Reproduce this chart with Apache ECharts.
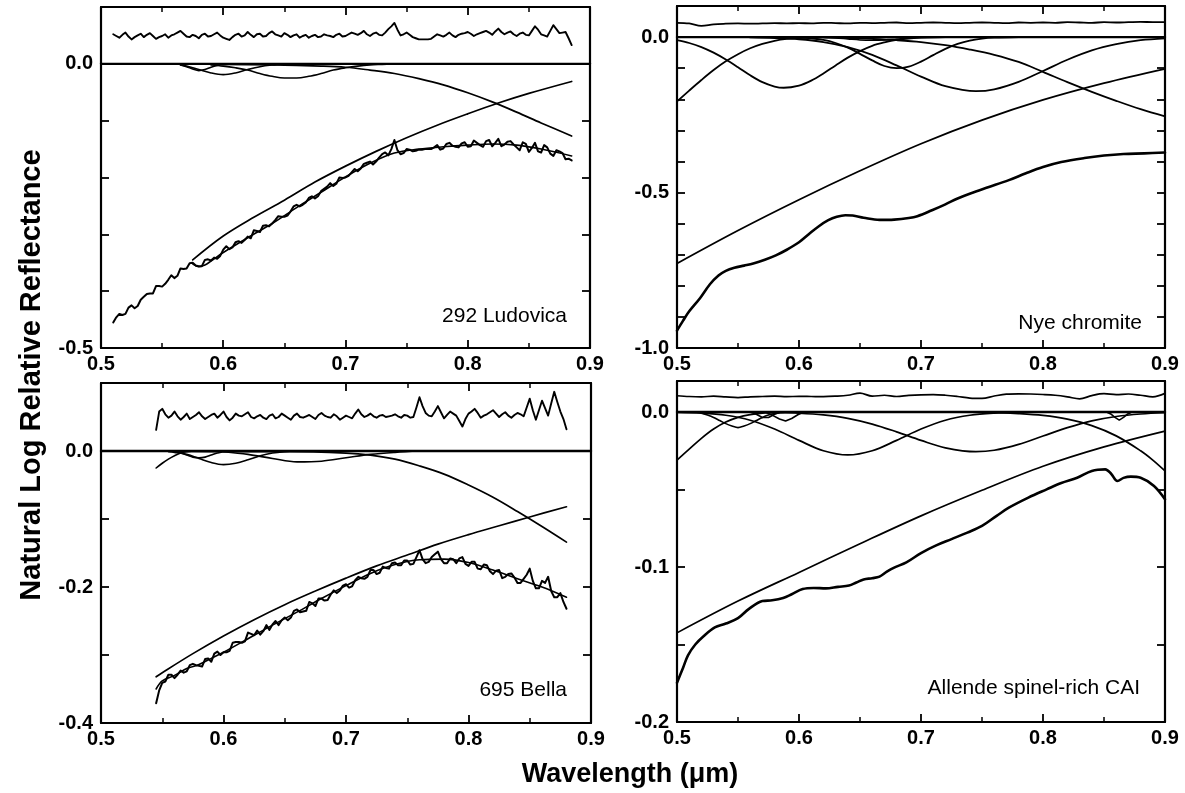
<!DOCTYPE html>
<html><head><meta charset="utf-8">
<script src="https://cdn.jsdelivr.net/npm/echarts/dist/echarts.min.js"></script>
<style>html,body{margin:0;padding:0;background:#fff}#c{width:1185px;height:793px}</style>
</head><body><div id="c"></div>
<script>
// ---------- shared ----------
const xTicks = [0.5, 0.6, 0.7, 0.8, 0.9];
const zeroLine = [[0.5, 0], [0.9, 0]];

// ---------- 292 Ludovica (top-left) ----------
const tlStart = 0.51, tlStep = 0.0025;
const tlResidual = [0.052,0.049,0.046,0.051,0.055,0.048,0.043,0.047,0.050,0.053,0.047,0.051,0.054,0.049,0.044,0.047,0.049,0.052,0.046,0.050,0.052,0.055,0.058,0.053,0.048,0.047,0.051,0.049,0.045,0.051,0.053,0.048,0.049,0.052,0.055,0.050,0.046,0.044,0.042,0.047,0.051,0.053,0.048,0.050,0.056,0.051,0.047,0.052,0.053,0.048,0.049,0.054,0.057,0.052,0.050,0.048,0.054,0.051,0.047,0.050,0.052,0.046,0.049,0.051,0.046,0.049,0.051,0.047,0.048,0.052,0.050,0.049,0.047,0.051,0.053,0.048,0.049,0.052,0.055,0.053,0.051,0.054,0.058,0.052,0.049,0.053,0.055,0.051,0.050,0.055,0.061,0.066,0.072,0.060,0.050,0.052,0.055,0.051,0.047,0.045,0.043,0.043,0.043,0.043,0.044,0.048,0.052,0.050,0.048,0.051,0.055,0.050,0.047,0.051,0.053,0.054,0.056,0.053,0.049,0.052,0.054,0.056,0.058,0.055,0.051,0.057,0.062,0.056,0.052,0.055,0.057,0.052,0.049,0.053,0.055,0.051,0.050,0.058,0.066,0.060,0.052,0.050,0.048,0.058,0.068,0.061,0.054,0.055,0.056,0.045,0.033];
const tlSpectrum = [-0.455,-0.446,-0.440,-0.442,-0.440,-0.429,-0.425,-0.430,-0.426,-0.415,-0.410,-0.405,-0.404,-0.404,-0.391,-0.391,-0.392,-0.387,-0.380,-0.372,-0.377,-0.373,-0.360,-0.361,-0.360,-0.351,-0.350,-0.355,-0.356,-0.356,-0.345,-0.344,-0.346,-0.341,-0.343,-0.338,-0.327,-0.321,-0.326,-0.323,-0.314,-0.312,-0.315,-0.310,-0.304,-0.307,-0.293,-0.294,-0.296,-0.285,-0.284,-0.286,-0.281,-0.275,-0.268,-0.269,-0.269,-0.267,-0.260,-0.251,-0.248,-0.251,-0.248,-0.244,-0.236,-0.233,-0.237,-0.233,-0.224,-0.220,-0.216,-0.210,-0.215,-0.211,-0.200,-0.201,-0.200,-0.197,-0.191,-0.185,-0.189,-0.184,-0.176,-0.174,-0.172,-0.177,-0.172,-0.165,-0.159,-0.156,-0.161,-0.150,-0.134,-0.152,-0.159,-0.157,-0.150,-0.151,-0.154,-0.153,-0.151,-0.151,-0.150,-0.150,-0.150,-0.147,-0.143,-0.151,-0.149,-0.141,-0.139,-0.144,-0.146,-0.147,-0.140,-0.138,-0.146,-0.145,-0.135,-0.139,-0.143,-0.146,-0.136,-0.134,-0.145,-0.139,-0.132,-0.145,-0.142,-0.137,-0.136,-0.142,-0.147,-0.152,-0.138,-0.141,-0.155,-0.148,-0.139,-0.154,-0.156,-0.143,-0.147,-0.158,-0.162,-0.152,-0.154,-0.157,-0.168,-0.167,-0.170];
const tlModel = [[0.575,-0.352],[0.58,-0.357],[0.585,-0.354],[0.59,-0.347],[0.60,-0.332],[0.62,-0.306],[0.64,-0.281],[0.66,-0.253],[0.68,-0.226],[0.70,-0.199],[0.72,-0.175],[0.74,-0.157],[0.76,-0.150],[0.78,-0.146],[0.80,-0.143],[0.82,-0.141],[0.84,-0.143],[0.86,-0.150],[0.885,-0.162]];
const tlContinuum = [[0.575,-0.345],[0.60,-0.303],[0.625,-0.270],[0.65,-0.240],[0.675,-0.208],[0.70,-0.180],[0.725,-0.154],[0.75,-0.130],[0.775,-0.108],[0.80,-0.088],[0.825,-0.069],[0.85,-0.052],[0.885,-0.031]];
const tlBand1 = [[0.565,-0.002],[0.57,-0.005],[0.575,-0.009],[0.58,-0.012],[0.585,-0.010],[0.59,-0.006],[0.595,-0.003],[0.60,-0.001],[0.61,0]];
const tlBand2 = [[0.565,-0.002],[0.57,-0.004],[0.58,-0.010],[0.59,-0.016],[0.60,-0.019],[0.61,-0.016],[0.62,-0.010],[0.63,-0.005],[0.64,-0.002],[0.65,0]];
const tlBand3 = [[0.59,-0.002],[0.60,-0.004],[0.61,-0.007],[0.62,-0.011],[0.63,-0.017],[0.64,-0.022],[0.65,-0.025],[0.66,-0.025],[0.67,-0.022],[0.68,-0.017],[0.69,-0.011],[0.70,-0.007],[0.71,-0.004],[0.72,-0.002],[0.73,-0.001],[0.74,0]];
const tlBand4 = [[0.575,0],[0.60,-0.001],[0.64,-0.002],[0.68,-0.004],[0.70,-0.006],[0.72,-0.011],[0.74,-0.017],[0.76,-0.026],[0.78,-0.037],[0.80,-0.051],[0.82,-0.067],[0.84,-0.085],[0.86,-0.104],[0.885,-0.127]];

// ---------- Nye chromite (top-right) ----------
const trStart = 0.50, trStep = 0.01;
const trResidual = [0.046,0.044,0.036,0.041,0.043,0.044,0.043,0.044,0.045,0.044,0.045,0.044,0.046,0.045,0.044,0.046,0.045,0.046,0.047,0.045,0.046,0.047,0.046,0.045,0.046,0.047,0.046,0.045,0.047,0.046,0.047,0.046,0.048,0.047,0.046,0.048,0.047,0.048,0.049,0.048,0.048];
const trSpectrum = [[0.5,-0.944],[0.505,-0.912],[0.51,-0.882],[0.519,-0.839],[0.527,-0.795],[0.534,-0.767],[0.54,-0.752],[0.547,-0.742],[0.555,-0.735],[0.5625,-0.728],[0.572,-0.716],[0.581,-0.702],[0.59,-0.684],[0.6,-0.660],[0.608,-0.634],[0.616,-0.609],[0.624,-0.589],[0.631,-0.578],[0.638,-0.573],[0.644,-0.574],[0.653,-0.581],[0.666,-0.588],[0.678,-0.587],[0.69,-0.582],[0.697,-0.576],[0.709,-0.557],[0.72,-0.538],[0.73,-0.519],[0.741,-0.502],[0.755,-0.483],[0.772,-0.460],[0.786,-0.438],[0.8,-0.418],[0.815,-0.402],[0.834,-0.389],[0.85,-0.381],[0.866,-0.376],[0.883,-0.374],[0.9,-0.371]];
const trContinuum = [[0.5,-0.728],[0.55,-0.622],[0.6,-0.523],[0.65,-0.430],[0.7,-0.343],[0.75,-0.267],[0.8,-0.202],[0.85,-0.148],[0.9,-0.102]];
const trBandW = [[0.5,-0.207],[0.51,-0.172],[0.52,-0.138],[0.53,-0.106],[0.54,-0.078],[0.55,-0.055],[0.56,-0.036],[0.57,-0.022],[0.58,-0.012],[0.59,-0.006],[0.60,-0.003],[0.62,0]];
const trBandA = [[0.5,-0.010],[0.51,-0.019],[0.52,-0.032],[0.53,-0.050],[0.54,-0.072],[0.55,-0.097],[0.56,-0.123],[0.57,-0.145],[0.58,-0.159],[0.5875,-0.163],[0.60,-0.156],[0.61,-0.140],[0.62,-0.117],[0.63,-0.091],[0.64,-0.066],[0.65,-0.045],[0.66,-0.028],[0.67,-0.017],[0.68,-0.009],[0.69,-0.005],[0.70,-0.002],[0.72,0]];
const trBandE = [[0.62,-0.001],[0.63,-0.003],[0.64,-0.006],[0.65,-0.009],[0.66,-0.010],[0.67,-0.009],[0.68,-0.006],[0.69,-0.003],[0.70,-0.001],[0.71,0]];
const trBandB = [[0.60,-0.001],[0.61,-0.004],[0.62,-0.009],[0.63,-0.019],[0.64,-0.034],[0.65,-0.054],[0.66,-0.075],[0.67,-0.093],[0.68,-0.100],[0.69,-0.095],[0.70,-0.079],[0.71,-0.058],[0.72,-0.038],[0.73,-0.022],[0.74,-0.011],[0.75,-0.005],[0.76,-0.002],[0.78,0]];
const trBandC = [[0.56,-0.001],[0.58,-0.003],[0.60,-0.007],[0.62,-0.016],[0.64,-0.032],[0.66,-0.057],[0.68,-0.091],[0.70,-0.127],[0.72,-0.158],[0.745,-0.174],[0.76,-0.168],[0.78,-0.144],[0.80,-0.109],[0.82,-0.073],[0.84,-0.043],[0.86,-0.023],[0.88,-0.010],[0.90,-0.004]];
const trBandD = [[0.60,0],[0.62,-0.001],[0.64,-0.003],[0.66,-0.006],[0.68,-0.010],[0.70,-0.016],[0.72,-0.026],[0.74,-0.040],[0.76,-0.057],[0.78,-0.080],[0.80,-0.112],[0.82,-0.145],[0.84,-0.176],[0.86,-0.205],[0.88,-0.232],[0.90,-0.255]];

// ---------- 695 Bella (bottom-left) ----------
const blStart = 0.545, blStep = 0.0025;
const blResidual = [0.031,0.058,0.062,0.054,0.049,0.052,0.058,0.051,0.046,0.050,0.055,0.047,0.050,0.053,0.057,0.051,0.047,0.050,0.053,0.055,0.049,0.053,0.058,0.050,0.045,0.049,0.055,0.052,0.051,0.054,0.057,0.050,0.048,0.051,0.053,0.049,0.047,0.052,0.054,0.048,0.050,0.055,0.052,0.049,0.046,0.052,0.055,0.050,0.049,0.051,0.053,0.050,0.047,0.053,0.056,0.052,0.050,0.049,0.054,0.051,0.046,0.049,0.052,0.050,0.048,0.055,0.061,0.054,0.050,0.052,0.055,0.051,0.049,0.052,0.053,0.050,0.051,0.052,0.054,0.051,0.049,0.053,0.052,0.049,0.050,0.064,0.079,0.066,0.056,0.052,0.051,0.058,0.066,0.057,0.048,0.053,0.058,0.055,0.052,0.044,0.036,0.047,0.055,0.058,0.062,0.056,0.049,0.052,0.054,0.057,0.060,0.055,0.050,0.054,0.057,0.052,0.049,0.053,0.056,0.054,0.051,0.064,0.077,0.060,0.046,0.060,0.074,0.063,0.052,0.070,0.087,0.072,0.058,0.047,0.032];
const blSpectrum = [-0.371,-0.352,-0.341,-0.339,-0.329,-0.329,-0.334,-0.329,-0.323,-0.326,-0.324,-0.315,-0.313,-0.315,-0.316,-0.317,-0.306,-0.305,-0.310,-0.298,-0.295,-0.300,-0.296,-0.296,-0.294,-0.282,-0.281,-0.281,-0.282,-0.280,-0.267,-0.269,-0.271,-0.264,-0.270,-0.265,-0.256,-0.263,-0.255,-0.250,-0.256,-0.249,-0.245,-0.249,-0.245,-0.235,-0.233,-0.237,-0.236,-0.235,-0.222,-0.224,-0.228,-0.217,-0.217,-0.220,-0.219,-0.211,-0.205,-0.209,-0.205,-0.198,-0.196,-0.201,-0.199,-0.190,-0.185,-0.187,-0.188,-0.185,-0.175,-0.175,-0.181,-0.179,-0.170,-0.172,-0.173,-0.165,-0.164,-0.168,-0.168,-0.161,-0.161,-0.167,-0.166,-0.156,-0.146,-0.159,-0.165,-0.163,-0.156,-0.152,-0.148,-0.159,-0.165,-0.165,-0.158,-0.159,-0.165,-0.158,-0.156,-0.166,-0.169,-0.163,-0.163,-0.173,-0.174,-0.167,-0.168,-0.177,-0.181,-0.176,-0.175,-0.187,-0.185,-0.181,-0.180,-0.186,-0.194,-0.194,-0.188,-0.182,-0.173,-0.191,-0.202,-0.202,-0.191,-0.194,-0.185,-0.206,-0.215,-0.215,-0.209,-0.222,-0.232];
const blModel = [[0.545,-0.350],[0.55,-0.338],[0.56,-0.330],[0.57,-0.320],[0.58,-0.314],[0.59,-0.305],[0.60,-0.296],[0.62,-0.276],[0.64,-0.256],[0.66,-0.237],[0.68,-0.217],[0.70,-0.198],[0.72,-0.180],[0.74,-0.167],[0.76,-0.160],[0.78,-0.159],[0.80,-0.164],[0.82,-0.175],[0.84,-0.188],[0.86,-0.200],[0.88,-0.215]];
const blContinuum = [[0.545,-0.332],[0.55,-0.326],[0.575,-0.298],[0.60,-0.272],[0.625,-0.248],[0.65,-0.226],[0.675,-0.206],[0.70,-0.187],[0.725,-0.169],[0.75,-0.153],[0.775,-0.137],[0.80,-0.123],[0.825,-0.110],[0.85,-0.097],[0.88,-0.082]];
const blBand1 = [[0.545,-0.025],[0.55,-0.018],[0.555,-0.012],[0.56,-0.007],[0.565,-0.003],[0.57,-0.001],[0.58,0]];
const blBand2 = [[0.56,-0.001],[0.565,-0.003],[0.57,-0.006],[0.575,-0.009],[0.58,-0.010],[0.585,-0.009],[0.59,-0.006],[0.595,-0.003],[0.60,-0.001],[0.61,0]];
const blBand3 = [[0.555,-0.001],[0.56,-0.002],[0.57,-0.005],[0.58,-0.011],[0.59,-0.017],[0.60,-0.020],[0.61,-0.018],[0.62,-0.013],[0.63,-0.007],[0.64,-0.003],[0.65,-0.001],[0.66,0]];
const blBand4 = [[0.60,-0.001],[0.62,-0.005],[0.64,-0.011],[0.66,-0.016],[0.68,-0.015],[0.70,-0.010],[0.72,-0.005],[0.74,-0.002],[0.76,0]];
const blBand5 = [[0.545,0],[0.60,-0.001],[0.65,-0.001],[0.70,-0.003],[0.72,-0.006],[0.74,-0.012],[0.76,-0.022],[0.78,-0.034],[0.80,-0.050],[0.82,-0.068],[0.84,-0.089],[0.86,-0.111],[0.88,-0.134]];

// ---------- Allende spinel-rich CAI (bottom-right) ----------
const brStart = 0.50, brStep = 0.01;
const brResidual = [0.0105,0.0100,0.0098,0.0102,0.0097,0.0093,0.0098,0.0100,0.0102,0.0099,0.0101,0.0100,0.0099,0.0102,0.0108,0.0122,0.0102,0.0108,0.0100,0.0107,0.0111,0.0112,0.0108,0.0100,0.0090,0.0088,0.0103,0.0115,0.0117,0.0116,0.0113,0.0108,0.0098,0.0085,0.0106,0.0118,0.0112,0.0116,0.0108,0.0098,0.0120];
const brSpectrum = [[0.5,-0.1746],[0.505,-0.165],[0.509,-0.157],[0.515,-0.150],[0.522,-0.1445],[0.531,-0.139],[0.54,-0.1365],[0.55,-0.133],[0.559,-0.127],[0.57,-0.122],[0.578,-0.1215],[0.587,-0.120],[0.594,-0.1176],[0.603,-0.1142],[0.612,-0.1135],[0.622,-0.1138],[0.632,-0.1128],[0.641,-0.112],[0.647,-0.110],[0.653,-0.108],[0.66,-0.1072],[0.666,-0.1062],[0.672,-0.103],[0.678,-0.1004],[0.688,-0.097],[0.7,-0.091],[0.712,-0.0862],[0.725,-0.082],[0.738,-0.0778],[0.75,-0.0735],[0.762,-0.067],[0.772,-0.0617],[0.788,-0.0552],[0.803,-0.0499],[0.815,-0.0458],[0.828,-0.0424],[0.84,-0.038],[0.851,-0.0370],[0.856,-0.040],[0.861,-0.0445],[0.866,-0.0425],[0.872,-0.0417],[0.88,-0.0424],[0.891,-0.0477],[0.9,-0.0563]];
const brContinuum = [[0.5,-0.1425],[0.55,-0.122],[0.6,-0.1035],[0.65,-0.0850],[0.7,-0.0670],[0.75,-0.0505],[0.8,-0.0350],[0.85,-0.0225],[0.9,-0.0123]];
const brBandW = [[0.5,-0.031],[0.51,-0.024],[0.52,-0.017],[0.53,-0.011],[0.54,-0.0065],[0.55,-0.0035],[0.56,-0.0017],[0.57,-0.0007],[0.58,-0.0002],[0.60,0]];
const brBandS1 = [[0.52,-0.0008],[0.525,-0.002],[0.53,-0.0035],[0.535,-0.0055],[0.54,-0.0075],[0.545,-0.009],[0.55,-0.0101],[0.555,-0.009],[0.56,-0.0075],[0.565,-0.0055],[0.57,-0.0035],[0.575,-0.002],[0.58,-0.001],[0.59,0]];
const brBandS2 = [[0.572,0],[0.578,-0.002],[0.584,-0.0045],[0.589,-0.0058],[0.594,-0.0042],[0.599,-0.0018],[0.604,0]];
const brBandS3 = [[0.56,0],[0.565,-0.0015],[0.57,-0.0035],[0.575,-0.0035],[0.58,-0.0015],[0.585,0]];
const brBandB = [[0.5,-0.0002],[0.52,-0.0007],[0.54,-0.0021],[0.56,-0.0053],[0.58,-0.011],[0.60,-0.0183],[0.62,-0.025],[0.64,-0.0277],[0.66,-0.025],[0.68,-0.0183],[0.70,-0.011],[0.72,-0.0053],[0.74,-0.0021],[0.76,-0.0007],[0.78,-0.0002],[0.80,0]];
const brBandC = [[0.58,-0.0003],[0.60,-0.0008],[0.62,-0.0019],[0.64,-0.0041],[0.66,-0.0078],[0.68,-0.0128],[0.70,-0.0183],[0.72,-0.0231],[0.745,-0.0256],[0.76,-0.0247],[0.78,-0.0209],[0.80,-0.0155],[0.82,-0.0101],[0.84,-0.0057],[0.86,-0.0029],[0.88,-0.0013],[0.90,-0.0005]];
const brBandS4 = [[0.852,0],[0.856,-0.0015],[0.859,-0.0035],[0.8625,-0.0052],[0.866,-0.0035],[0.869,-0.0015],[0.873,0]];
const brBandD = [[0.74,0],[0.76,-0.0004],[0.78,-0.001],[0.80,-0.0022],[0.82,-0.0046],[0.84,-0.0088],[0.86,-0.0154],[0.88,-0.025],[0.89,-0.031],[0.90,-0.038]];

// ---------- panel definitions ----------
const panelNames = ['292 Ludovica', 'Nye chromite', '695 Bella', 'Allende spinel-rich CAI'];
const yMin = [-0.5, -1.0, -0.4, -0.2];
const yMax = [0.1, 0.1, 0.1, 0.02];
const yStep = [0.1, 0.1, 0.1, 0.05];
const yLabels = [[0.0, -0.5], [0.0, -0.5, -1.0], [0.0, -0.2, -0.4], [0.0, -0.1, -0.2]];

// ---------- build ----------
const FONT = '"Liberation Sans", Arial, Helvetica, sans-serif';
const grids = [
  {left: 101, top: 7, width: 489, height: 341},
  {left: 677, top: 6, width: 488, height: 342},
  {left: 101, top: 383, width: 490, height: 340},
  {left: 677, top: 381, width: 488, height: 341}
];
function onGrid(start, step, vals) { return vals.map((v, i) => [+(start + i * step).toFixed(5), v]); }

const xAxes = [], yAxes = [];
grids.forEach((g, gi) => {
  ['bottom', 'top'].forEach(pos => {
    xAxes.push({
      type: 'value', gridIndex: gi, position: pos, min: xTicks[0], max: xTicks[xTicks.length - 1], interval: 0.1,
      axisLine: {show: true, onZero: false, lineStyle: {color: '#000', width: 2.2}},
      axisTick: {show: true, inside: true, length: 8, lineStyle: {color: '#000', width: 1.8}},
      minorTick: {show: true, splitNumber: 2, length: 5, lineStyle: {color: '#000', width: 1.5}},
      splitLine: {show: false}, minorSplitLine: {show: false},
      axisLabel: pos === 'bottom' ? {show: true, formatter: v => v.toFixed(1), color: '#000', fontFamily: FONT,
        fontWeight: 'bold', fontSize: 20, margin: 6, showMinLabel: true, showMaxLabel: true} : {show: false}
    });
  });
  ['left', 'right'].forEach(pos => {
    yAxes.push({
      type: 'value', gridIndex: gi, position: pos, min: yMin[gi], max: yMax[gi], interval: yStep[gi],
      axisLine: {show: true, onZero: false, lineStyle: {color: '#000', width: 2.2}},
      axisTick: {show: true, inside: true, length: 8, lineStyle: {color: '#000', width: 1.8}},
      splitLine: {show: false},
      axisLabel: pos === 'left' ? {show: true, color: '#000', fontFamily: FONT, fontWeight: 'bold', fontSize: 20, margin: 8,
        showMinLabel: true, showMaxLabel: true,
        formatter: v => yLabels[gi].some(l => Math.abs(l - v) < 1e-6) ? v.toFixed(1) : ''} : {show: false}
    });
  });
});

function ln(gi, data, w, smooth) {
  return {type: 'line', xAxisIndex: 2 * gi, yAxisIndex: 2 * gi, data: data, showSymbol: false, symbol: 'none',
    smooth: smooth ? 0.35 : false, lineStyle: {color: '#000', width: w, join: 'round', cap: 'round'}, silent: true, animation: false, z: 3};
}

const series = [
  // TL
  ln(0, zeroLine, 2.4, false),
  ln(0, onGrid(tlStart, tlStep, tlResidual), 1.9, false),
  ln(0, onGrid(tlStart, tlStep, tlSpectrum), 2.0, false),
  ln(0, tlModel, 1.6, true),
  ln(0, tlContinuum, 1.7, true),
  ln(0, tlBand1, 1.6, true), ln(0, tlBand2, 1.6, true), ln(0, tlBand3, 1.6, true), ln(0, tlBand4, 1.7, true),
  // TR
  ln(1, zeroLine, 2.4, false),
  ln(1, onGrid(trStart, trStep, trResidual), 1.8, true),
  ln(1, trSpectrum, 2.6, true),
  ln(1, trContinuum, 1.8, true),
  ln(1, trBandW, 1.8, true), ln(1, trBandA, 1.8, true), ln(1, trBandE, 1.5, true),
  ln(1, trBandB, 1.8, true), ln(1, trBandC, 1.8, true), ln(1, trBandD, 1.8, true),
  // BL
  ln(2, zeroLine, 2.4, false),
  ln(2, onGrid(blStart, blStep, blResidual), 1.9, false),
  ln(2, onGrid(blStart, blStep, blSpectrum), 2.0, false),
  ln(2, blModel, 1.6, true),
  ln(2, blContinuum, 1.7, true),
  ln(2, blBand1, 1.6, true), ln(2, blBand2, 1.6, true), ln(2, blBand3, 1.6, true), ln(2, blBand4, 1.6, true), ln(2, blBand5, 1.7, true),
  // BR
  ln(3, zeroLine, 2.4, false),
  ln(3, onGrid(brStart, brStep, brResidual), 1.7, true),
  ln(3, brSpectrum, 2.6, true),
  ln(3, brContinuum, 1.7, true),
  ln(3, brBandW, 1.7, true), ln(3, brBandS1, 1.6, true), ln(3, brBandS2, 1.6, false), ln(3, brBandS3, 1.6, false),
  ln(3, brBandB, 1.7, true), ln(3, brBandC, 1.7, true), ln(3, brBandS4, 1.6, false), ln(3, brBandD, 1.7, true)
];

const labelPos = [[567, 316], [1142, 323], [567, 690], [1140, 688]];
const graphic = panelNames.map((t, i) => ({
  type: 'text', x: labelPos[i][0], y: labelPos[i][1], z: 10,
  style: {text: t, font: '21px ' + FONT, fill: '#000', align: 'right', textAlign: 'right', verticalAlign: 'middle', textVerticalAlign: 'middle'}
}));
graphic.push({type: 'text', x: 32, y: 375, rotation: Math.PI / 2, z: 10,
  style: {text: 'Natural Log Relative Reflectance', font: 'bold 29px ' + FONT, fill: '#000',
    align: 'center', textAlign: 'center', verticalAlign: 'middle', textVerticalAlign: 'middle'}});
graphic.push({type: 'text', x: 630, y: 775, z: 10,
  style: {text: 'Wavelength (\u03bcm)', font: 'bold 27px ' + FONT, fill: '#000',
    align: 'center', textAlign: 'center', verticalAlign: 'middle', textVerticalAlign: 'middle'}});

const chart = echarts.init(document.getElementById('c'), null, {renderer: 'canvas'});
chart.setOption({
  animation: false,
  backgroundColor: '#fff',
  grid: grids,
  xAxis: xAxes,
  yAxis: yAxes,
  series: series,
  graphic: graphic
});
</script></body></html>
